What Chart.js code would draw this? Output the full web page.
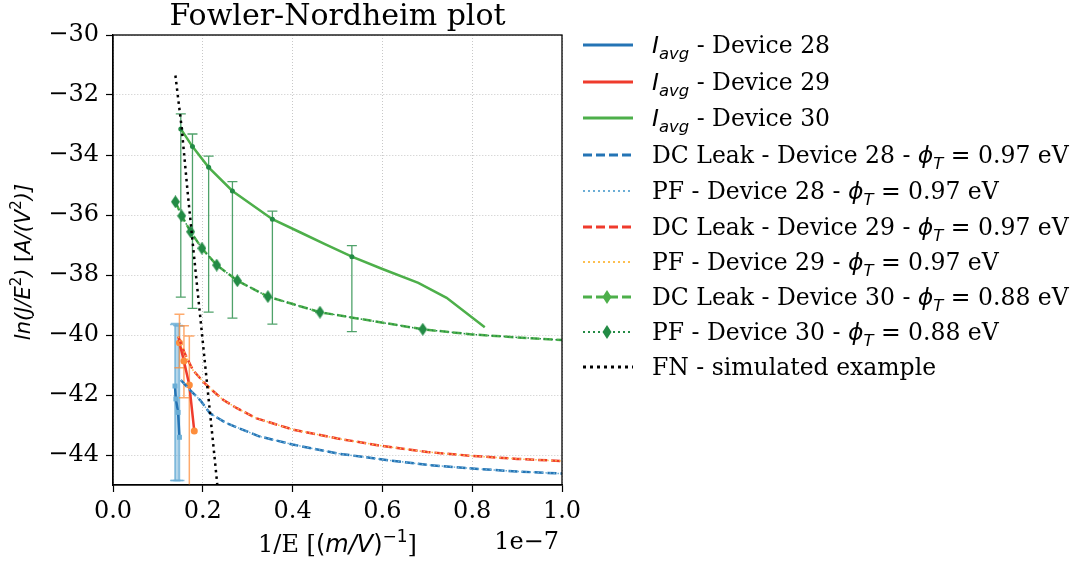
<!DOCTYPE html>
<html><head><meta charset="utf-8">
<script src="https://cdn.jsdelivr.net/npm/chart.js@4.4.1/dist/chart.umd.min.js"></script>
<style>
html,body{margin:0;padding:0;background:#fff}
#wrap{position:relative;width:1074px;height:562px;overflow:hidden}
#c{position:absolute;left:0;top:0}
#legend{position:absolute;left:582px;top:26.7px;font-family:'DejaVu Serif';font-size:23.5px;color:#000}
.row{display:flex;align-items:center;height:36.6px;white-space:nowrap}
.row.s{height:35px}
.row svg{width:52px;height:20px;margin-right:18px;flex:none}
.m{font-family:'DejaVu Sans';font-style:italic}
.u{font-family:'DejaVu Sans'}
sub{font-size:70%;vertical-align:-0.35em;line-height:0}
</style></head>
<body>
<div id="wrap"><canvas id="c" width="1074" height="562"></canvas><div id="legend"></div></div>
<script>
// ===================== DATOS (1/E en unidades de 1e-7 m/V) =====================
const xTicks=[0,0.2,0.4,0.6,0.8,1.0];
const yTicks=[-44,-42,-40,-38,-36,-34,-32,-30];

// I_avg por dispositivo (+ barras de error)
const i28X=[0.138,0.140,0.145,0.148];
const i28Y=[-41.70,-42.13,-42.58,-43.41];
const i28Lo=[-44.85,-44.85,-44.85,-44.85];
const i28Hi=[-39.65,-39.62,-39.68,-39.70];

const i29X=[0.148,0.158,0.170,0.181];
const i29Y=[-40.26,-40.87,-41.67,-43.20];
const i29Lo=[-41.09,-42.09,-46.00,null];
const i29Hi=[-39.31,-39.69,-40.03,null];

const i30X=[0.151,0.177,0.213,0.266,0.355,0.420,0.472,0.532,0.600,0.680,0.743,0.828];
const i30Y=[-33.13,-33.72,-34.41,-35.20,-36.14,-36.60,-36.97,-37.39,-37.80,-38.26,-38.76,-39.74];
const i30Lo=[-38.74,-39.11,-39.24,-39.44,-39.64,null,null,-39.89,null,null,null,null];
const i30Hi=[-32.63,-33.30,-34.04,-34.89,-35.87,null,null,-37.02,null,null,null,null];

// ajustes DC Leak / PF (coinciden entre sí)
const dc28X=[0.151,0.171,0.194,0.216,0.253,0.324,0.40,0.50,0.60,0.70,0.80,0.90,1.00];
const dc28Y=[-41.50,-41.83,-42.17,-42.61,-42.94,-43.37,-43.65,-43.95,-44.15,-44.33,-44.45,-44.55,-44.62];
const dc29X=[0.145,0.160,0.178,0.201,0.220,0.246,0.276,0.320,0.40,0.50,0.60,0.70,0.80,0.90,1.00];
const dc29Y=[-40.05,-40.62,-41.17,-41.56,-41.83,-42.17,-42.44,-42.78,-43.15,-43.45,-43.70,-43.90,-44.03,-44.13,-44.20];
const dc30X=[0.139,0.153,0.173,0.198,0.231,0.277,0.345,0.461,0.690,0.80,0.90,1.00];
const dc30Y=[-35.56,-36.03,-36.56,-37.11,-37.67,-38.19,-38.72,-39.24,-39.81,-39.98,-40.08,-40.17];
const dc30Marks=9; // primeros puntos con rombo

// FN simulado
const fnX=[0.139,0.153,0.166,0.180,0.195,0.210,0.225,0.235];
const fnY=[-31.35,-33.10,-35.20,-37.30,-39.50,-41.70,-43.90,-45.40];

const labels=[
  '<span class="m">I</span><sub class="m">avg</sub> - Device 28',
  '<span class="m">I</span><sub class="m">avg</sub> - Device 29',
  '<span class="m">I</span><sub class="m">avg</sub> - Device 30',
  'DC Leak - Device 28 - <span class="m">ϕ</span><sub class="m">T</sub><span class="u"> = </span>0.97 eV',
  'PF - Device 28 - <span class="m">ϕ</span><sub class="m">T</sub><span class="u"> = </span>0.97 eV',
  'DC Leak - Device 29 - <span class="m">ϕ</span><sub class="m">T</sub><span class="u"> = </span>0.97 eV',
  'PF - Device 29 - <span class="m">ϕ</span><sub class="m">T</sub><span class="u"> = </span>0.97 eV',
  'DC Leak - Device 30 - <span class="m">ϕ</span><sub class="m">T</sub><span class="u"> = </span>0.88 eV',
  'PF - Device 30 - <span class="m">ϕ</span><sub class="m">T</sub><span class="u"> = </span>0.88 eV',
  'FN - simulated example'
];

// ===================== ESTILOS =====================
const C={blue:'#2474b5',lblue:'#6baed6',red:'#ef3b2c',orange:'#fd8d3c',yellow:'#fdbf4f',
  green:'#4daf4a',dgreen:'#238b45',black:'#000'};
const pts=(xs,ys)=>xs.map((v,i)=>({x:v,y:ys[i]}));

function diamond(col){
  const cv=document.createElement('canvas');cv.width=9;cv.height=13;
  const g=cv.getContext('2d');g.fillStyle=col;g.beginPath();
  g.moveTo(4.5,0);g.lineTo(9,6.5);g.lineTo(4.5,13);g.lineTo(0,6.5);g.closePath();g.fill();
  return cv;
}
const dDark=diamond(C.dgreen);

const base={showLine:true,fill:false,tension:0,pointRadius:0,pointHoverRadius:0,borderCapStyle:'butt'};
const datasets=[
  {...base,data:pts(i28X,i28Y),borderColor:C.blue,borderWidth:2.5,pointRadius:3.5,pointStyle:'rect',
    pointBackgroundColor:C.lblue,pointBorderColor:C.lblue,pointBorderWidth:0,
    leg:{color:C.blue,w:3,dash:''}},
  {...base,data:pts(i29X,i29Y),borderColor:C.red,borderWidth:2.5,pointRadius:3.5,
    pointBackgroundColor:C.orange,pointBorderColor:C.orange,pointBorderWidth:0,
    leg:{color:C.red,w:3,dash:''}},
  {...base,data:pts(i30X,i30Y),borderColor:C.green,borderWidth:2.5,
    pointRadius:c=>i30Lo[c.dataIndex]==null?0:2.5,pointBackgroundColor:C.dgreen,pointBorderWidth:0,
    leg:{color:C.green,w:3,dash:''}},
  {...base,data:pts(dc28X,dc28Y),borderColor:C.blue,borderWidth:2.5,borderDash:[9,4],
    leg:{color:C.blue,w:3,dash:'9 4'}},
  {...base,data:pts(dc28X,dc28Y),borderColor:C.lblue,borderWidth:1.5,borderDash:[1.5,2.5],
    leg:{color:C.lblue,w:1.8,dash:'2 3'}},
  {...base,data:pts(dc29X,dc29Y),borderColor:C.red,borderWidth:2.5,borderDash:[9,4],
    leg:{color:C.red,w:3,dash:'9 4'}},
  {...base,data:pts(dc29X,dc29Y),borderColor:C.yellow,borderWidth:1.5,borderDash:[1.5,2.5],
    leg:{color:C.yellow,w:1.8,dash:'2 3'}},
  {...base,data:pts(dc30X,dc30Y),borderColor:C.green,borderWidth:2.5,borderDash:[9,4],
    leg:{color:C.green,w:3,dash:'9 4',mark:C.green}},
  {...base,data:pts(dc30X,dc30Y),borderColor:C.dgreen,borderWidth:1.5,borderDash:[1.5,2.5],
    pointRadius:c=>c.dataIndex<dc30Marks?5:0,pointStyle:dDark,
    leg:{color:C.dgreen,w:1.8,dash:'2 3',mark:C.dgreen}},
  {...base,data:pts(fnX,fnY),borderColor:C.black,borderWidth:2.5,borderDash:[2.5,4],
    leg:{color:C.black,w:3,dash:'3 4'}}
];
datasets.forEach((d,i)=>d.order=datasets.length-i);

const errSets=[
  {x:i28X,lo:i28Lo,hi:i28Hi,color:'rgba(107,174,214,0.8)',w:1.5},
  {x:i29X,lo:i29Lo,hi:i29Hi,color:'rgba(253,141,60,0.75)',w:1.5},
  {x:i30X,lo:i30Lo,hi:i30Hi,color:'rgba(35,139,69,0.8)',w:1.3}
];

// ===================== PLUGINS =====================
const errPlugin={id:'errbars',beforeDatasetsDraw(chart){
  const {ctx,chartArea:a,scales:{x,y}}=chart;
  ctx.save();ctx.beginPath();ctx.rect(a.left,a.top,a.right-a.left,a.bottom-a.top);ctx.clip();
  errSets.forEach(s=>{
    ctx.strokeStyle=s.color;ctx.lineWidth=s.w;
    s.x.forEach((xv,i)=>{
      if(s.lo[i]==null)return;
      const px=x.getPixelForValue(xv),p1=y.getPixelForValue(s.lo[i]),p2=y.getPixelForValue(s.hi[i]);
      ctx.beginPath();
      ctx.moveTo(px,p1);ctx.lineTo(px,p2);
      ctx.moveTo(px-5,p1);ctx.lineTo(px+5,p1);
      ctx.moveTo(px-5,p2);ctx.lineTo(px+5,p2);
      ctx.stroke();
    });
  });
  ctx.restore();
}};

function runs(ctx,list,x,y,align){
  let w=0;list.forEach(r=>{ctx.font=r.f;w+=ctx.measureText(r.t).width;});
  let cx=align==='center'?x-w/2:align==='right'?x-w:x;
  ctx.textBaseline='alphabetic';ctx.textAlign='left';
  list.forEach(r=>{ctx.font=r.f;ctx.fillText(r.t,cx,y+(r.dy||0));cx+=ctx.measureText(r.t).width;});
}
const SER='24px "DejaVu Serif"',SANS='24px "DejaVu Sans"',SI='italic 24px "DejaVu Sans"',SUP='17px "DejaVu Sans"';
const YI='italic 21px "DejaVu Sans"',YS='21px "DejaVu Sans"',YSUP='15px "DejaVu Sans"';

const decor={id:'decor',afterDraw(chart){
  const {ctx,chartArea:a}=chart;
  ctx.save();
  ctx.strokeStyle='#000';ctx.lineWidth=1.3;
  ctx.strokeRect(a.left,a.top,a.right-a.left,a.bottom-a.top);
  ctx.fillStyle='#000';
  const mid=(a.left+a.right)/2;
  runs(ctx,[{t:'Fowler-Nordheim plot',f:'30px "DejaVu Serif"'}],mid,25,'center');
  runs(ctx,[{t:'1/E [',f:SER},{t:'(',f:SANS},{t:'m/V',f:SI},{t:')',f:SANS},{t:'−1',f:SUP,dy:-10},{t:']',f:SER}],mid,552,'center');
  runs(ctx,[{t:'1e−7',f:SER}],a.right-3,549,'right');
  ctx.translate(30,262);ctx.rotate(-Math.PI/2);
  runs(ctx,[{t:'ln(J/E',f:YI},{t:'2',f:YSUP,dy:-9},{t:')',f:YI},{t:' [',f:YS},{t:'A/(V',f:YI},{t:'2',f:YSUP,dy:-9},{t:')]',f:YI}],0,0,'center');
  ctx.restore();
}};

// ===================== CHART =====================
const grid={color:'#c8c8c8',lineWidth:1,tickColor:'#000',tickWidth:1.2,tickLength:7};
const border={color:'#000',width:1.3,dash:[1,2]};
const tickFont={family:'DejaVu Serif',size:24};
new Chart(document.getElementById('c'),{
  type:'scatter',
  data:{datasets},
  options:{
    responsive:false,animation:false,devicePixelRatio:1,events:[],
    layout:{padding:{left:0,top:35,right:512,bottom:0}},
    plugins:{legend:{display:false},tooltip:{enabled:false}},
    scales:{
      x:{type:'linear',min:0,max:1,grid,border,
        afterBuildTicks:s=>{s.ticks=xTicks.map(v=>({value:v}));},
        afterFit:s=>{s.height=77;},
        ticks:{color:'#000',font:tickFont,padding:5,maxRotation:0,callback:v=>v.toFixed(1)}},
      y:{type:'linear',min:-45,max:-30,grid,border,
        afterBuildTicks:s=>{s.ticks=yTicks.map(v=>({value:v}));},
        afterFit:s=>{s.width=113;},
        ticks:{color:'#000',font:tickFont,padding:7,callback:v=>'−'+Math.abs(v)}}
    }
  },
  plugins:[errPlugin,decor]
});

// ===================== LEYENDA =====================
const leg=document.getElementById('legend');
leg.innerHTML=datasets.map((d,i)=>{
  const L=d.leg;
  const mk=L.mark?`<path d="M25 3 L29.5 10 L25 17 L20.5 10 Z" fill="${L.mark}"/>`:'';
  return `<div class="row${i>=5?' s':''}"><svg viewBox="0 0 52 20"><line x1="1" y1="10" x2="51" y2="10" stroke="${L.color}" stroke-width="${L.w}" stroke-dasharray="${L.dash}"/>${mk}</svg><span>${labels[i]}</span></div>`;
}).join('');
</script>
</body></html>
